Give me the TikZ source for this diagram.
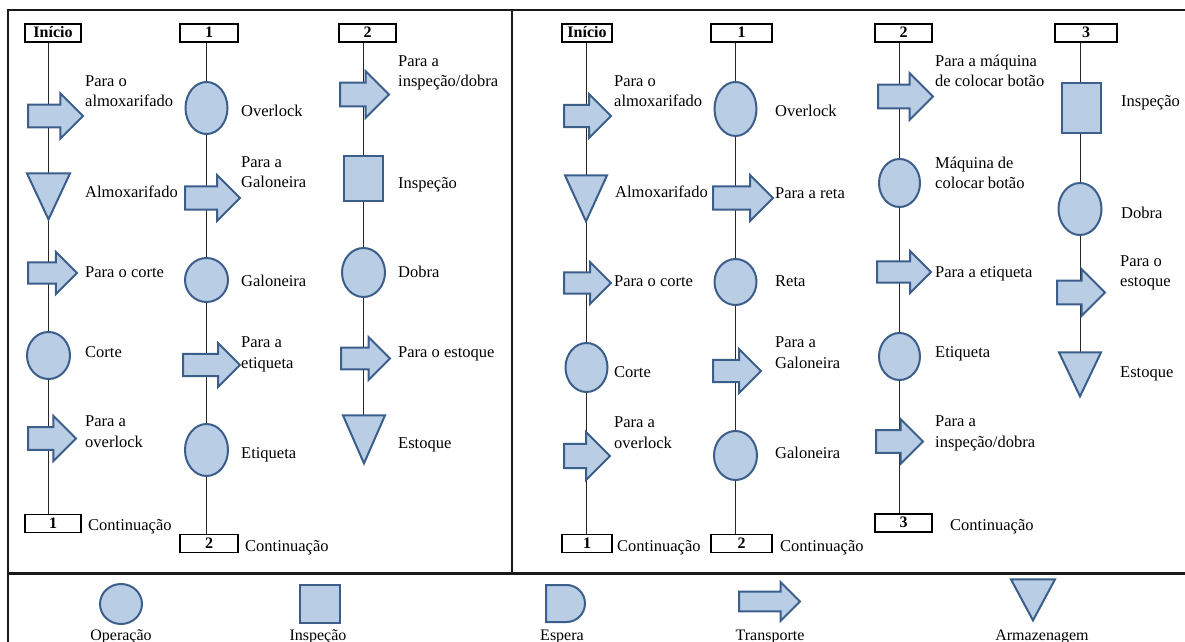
\documentclass[tikz,border=0pt]{standalone}
\usepackage{fontspec}
\setmainfont{Liberation Serif}
\usetikzlibrary{shapes.geometric,shapes.arrows,backgrounds}
\definecolor{symfill}{HTML}{B9CDE5}
\definecolor{symline}{HTML}{3B5E8A}
\tikzset{
  sym/.style={draw=symline, fill=symfill, line width=2bp, inner sep=0pt},
  op/.style 2 args={sym, ellipse, minimum width=#1bp, minimum height=#2bp},
  insp/.style 2 args={sym, rectangle, minimum width=#1bp, minimum height=#2bp},
  transp/.style 2 args={sym, single arrow, anchor=tail, single arrow head indent=0pt,
    single arrow tip angle=90, minimum height=#1bp, minimum width=#2bp,
    inner xsep=0pt, inner ysep={0.24*#2bp}, single arrow head extend={0.26*#2bp}},
  store/.style 2 args={sym, isosceles triangle, isosceles triangle stretches,
    shape border rotate=-90, anchor=apex, minimum width=#1bp, minimum height=#2bp},
  markbox/.style={draw=black, line width=1.2bp, fill=white, inner sep=0pt,
    minimum height=18bp, text height=11.5bp, text depth=2bp,
    font=\bfseries\fontsize{16bp}{18bp}\selectfont},
  lbl/.style={anchor=base west, align=left, inner sep=0pt,
    font=\fontsize{16.5bp}{20.5bp}\selectfont},
  legendtxt/.style={anchor=base, inner sep=0pt, font=\fontsize{16bp}{18bp}\selectfont},
  flow/.style={draw=black!85, line width=1bp},
  frame/.style={draw=black!90, line width=1.5bp},
}
\begin{document}
\begin{tikzpicture}[x=1bp, y=-1bp]
\useasboundingbox (0,0) rectangle (1185,642);
\clip (0,0) rectangle (1185,642);

% ---------- outer frame ----------
\draw[frame] (8,660) -- (8,10) -- (1190,10);
\draw[frame] (512,10) -- (512,573.5);
\draw[frame, line width=2.2bp] (8,573.5) -- (1190,573.5);

% ================= left chart =================
% column A
\node[markbox, minimum width=56bp] (LAs) at (53,33) {Início};
\node[transp={55}{43}] (LA1) at (27,116) {};
\node[store={43}{46}] (LA2) at (48.5,222) {};
\node[transp={49}{40}] (LA3) at (27,273) {};
\node[op={43}{47}] (LA4) at (48.5,355.5) {};
\node[transp={48}{43}] (LA5) at (27,438.5) {};
\node[markbox, minimum width=56bp] (LAe) at (53,523.5) {1};
\node[lbl] (tLA1) at (85,107) {Para o\\almoxarifado};
\node[lbl] (tLA2) at (85,198) {Almoxarifado};
\node[lbl] (tLA3) at (85,278) {Para o corte};
\node[lbl] (tLA4) at (85,357) {Corte};
\node[lbl] (tLA5) at (85,447) {Para a\\overlock};
\node[lbl] (tLAe) at (88,530) {Continuação};

% column B
\node[markbox, minimum width=58bp] (LBs) at (209,33) {1};
\node[op={42}{52}] (LB1) at (206.5,108) {};
\node[transp={55}{44}] (LB2) at (184,198) {};
\node[op={43}{44}] (LB3) at (206.5,280) {};
\node[transp={57}{42}] (LB4) at (182,365) {};
\node[op={43}{52}] (LB5) at (206.5,450) {};
\node[markbox, minimum width=58bp] (LBe) at (209,543.5) {2};
\node[lbl] (tLB1) at (241,117) {Overlock};
\node[lbl] (tLB2) at (241,188) {Para a\\Galoneira};
\node[lbl] (tLB3) at (241,287) {Galoneira};
\node[lbl] (tLB4) at (241,368) {Para a\\etiqueta};
\node[lbl] (tLB5) at (241,458) {Etiqueta};
\node[lbl] (tLBe) at (245,551) {Continuação};

% column C
\node[markbox, minimum width=57bp] (LCs) at (367.5,33) {2};
\node[transp={49}{45}] (LC1) at (339,94.5) {};
\node[insp={39}{45}] (LC2) at (363,178.5) {};
\node[op={43}{49}] (LC3) at (363.5,272.5) {};
\node[transp={49}{41}] (LC4) at (340,358.5) {};
\node[store={42}{48}] (LC5) at (364,466) {};
\node[lbl] (tLC1) at (398,87) {Para a\\inspeção/dobra};
\node[lbl] (tLC2) at (398,189) {Inspeção};
\node[lbl] (tLC3) at (398,278) {Dobra};
\node[lbl] (tLC4) at (398,357) {Para o estoque};
\node[lbl] (tLC5) at (398,448) {Estoque};

% ================= right chart =================
% column A
\node[markbox, minimum width=50bp] (RAs) at (587,33) {Início};
\node[transp={47}{42}] (RA1) at (563,116) {};
\node[store={42}{46}] (RA2) at (586,224) {};
\node[transp={47}{40}] (RA3) at (563,283) {};
\node[op={42}{49}] (RA4) at (586.5,367.5) {};
\node[transp={46}{46}] (RA5) at (563,456) {};
\node[markbox, minimum width=50bp] (RAe) at (587,543.5) {1};
\node[lbl] (tRA1) at (614,107) {Para o\\almoxarifado};
\node[lbl] (tRA2) at (615,198) {Almoxarifado};
\node[lbl] (tRA3) at (614,287) {Para o corte};
\node[lbl] (tRA4) at (614,377) {Corte};
\node[lbl] (tRA5) at (614,448) {Para a\\overlock};
\node[lbl] (tRAe) at (617,551) {Continuação};

% column B
\node[markbox, minimum width=61bp] (RBs) at (741.5,33) {1};
\node[op={42}{54}] (RB1) at (735.5,109) {};
\node[transp={60}{44}] (RB2) at (712,198) {};
\node[op={42}{46}] (RB3) at (735.5,282) {};
\node[transp={48}{42}] (RB4) at (712,371) {};
\node[op={43}{49}] (RB5) at (735.5,455.5) {};
\node[markbox, minimum width=61bp] (RBe) at (741.5,543.5) {2};
\node[lbl] (tRB1) at (775,117) {Overlock};
\node[lbl] (tRB2) at (775,199) {Para a reta};
\node[lbl] (tRB3) at (775,287) {Reta};
\node[lbl] (tRB4) at (775,368) {Para a\\Galoneira};
\node[lbl] (tRB5) at (775,458) {Galoneira};
\node[lbl] (tRBe) at (780,551) {Continuação};

% column C
\node[markbox, minimum width=57bp] (RCs) at (903.5,33) {2};
\node[transp={55}{45}] (RC1) at (877,96.5) {};
\node[op={41}{48}] (RC2) at (899.5,183) {};
\node[transp={54}{40}] (RC3) at (876,272) {};
\node[op={41}{47}] (RC4) at (899.5,356.5) {};
\node[transp={47}{43}] (RC5) at (875,441.5) {};
\node[markbox, minimum width=57bp] (RCe) at (903.5,523) {3};
\node[lbl] (tRC1) at (935,87) {Para a máquina\\de colocar botão};
\node[lbl] (tRC2) at (935,189) {Máquina de\\colocar botão};
\node[lbl] (tRC3) at (935,278) {Para a etiqueta};
\node[lbl] (tRC4) at (935,357) {Etiqueta};
\node[lbl] (tRC5) at (935,447) {Para a\\inspeção/dobra};
\node[lbl] (tRCe) at (950,530) {Continuação};

% column D
\node[markbox, minimum width=62bp] (RDs) at (1086,33) {3};
\node[insp={39}{50}] (RD1) at (1081,108) {};
\node[op={43}{52}] (RD2) at (1080,209) {};
\node[transp={48}{45}] (RD3) at (1056,292.5) {};
\node[store={42}{44}] (RD4) at (1080,399) {};
\node[lbl] (tRD1) at (1121,107) {Inspeção};
\node[lbl] (tRD2) at (1121,219) {Dobra};
\node[lbl] (tRD3) at (1120,287) {Para o\\estoque};
\node[lbl] (tRD4) at (1120,377) {Estoque};

% ---------- flow lines behind the symbols ----------
\begin{pgfonlayer}{background}
\draw[flow] (LAs.south -| LA4.center) -- (LAe.north -| LA4.center);
\draw[flow] (LBs.south -| LB1.center) -- (LBe.north -| LB1.center);
\draw[flow] (LCs.south -| LC3.center) -- (LC5.center -| LC3.center);
\draw[flow] (RAs.south -| RA4.center) -- (RAe.north -| RA4.center);
\draw[flow] (RBs.south -| RB1.center) -- (RBe.north -| RB1.center);
\draw[flow] (RCs.south -| RC2.center) -- (RCe.north -| RC2.center);
\draw[flow] (RDs.south -| RD2.center) -- (RD4.center -| RD2.center);
\end{pgfonlayer}

% ================= legend =================
\node[op={42}{40}] (KOp) at (121,604) {};
\node[insp={40}{38}] (KIn) at (320,604) {};
\draw[sym] (546,585) -- (566.5,585) arc[start angle=-90, end angle=90, radius=18.5]
  -- (546,622) -- cycle;
\node[transp={61}{37}] (KTr) at (738,601.5) {};
\node[store={44}{41}] (KSt) at (1033,623) {};
\node[legendtxt] (tKOp) at (121,640.5) {Operação};
\node[legendtxt] (tKIn) at (318,640.5) {Inspeção};
\node[legendtxt] (tKEs) at (562,640.5) {Espera};
\node[legendtxt] (tKTr) at (770,640.5) {Transporte};
\node[legendtxt] (tKSt) at (1042,640.5) {Armazenagem};
\end{tikzpicture}
\end{document}
